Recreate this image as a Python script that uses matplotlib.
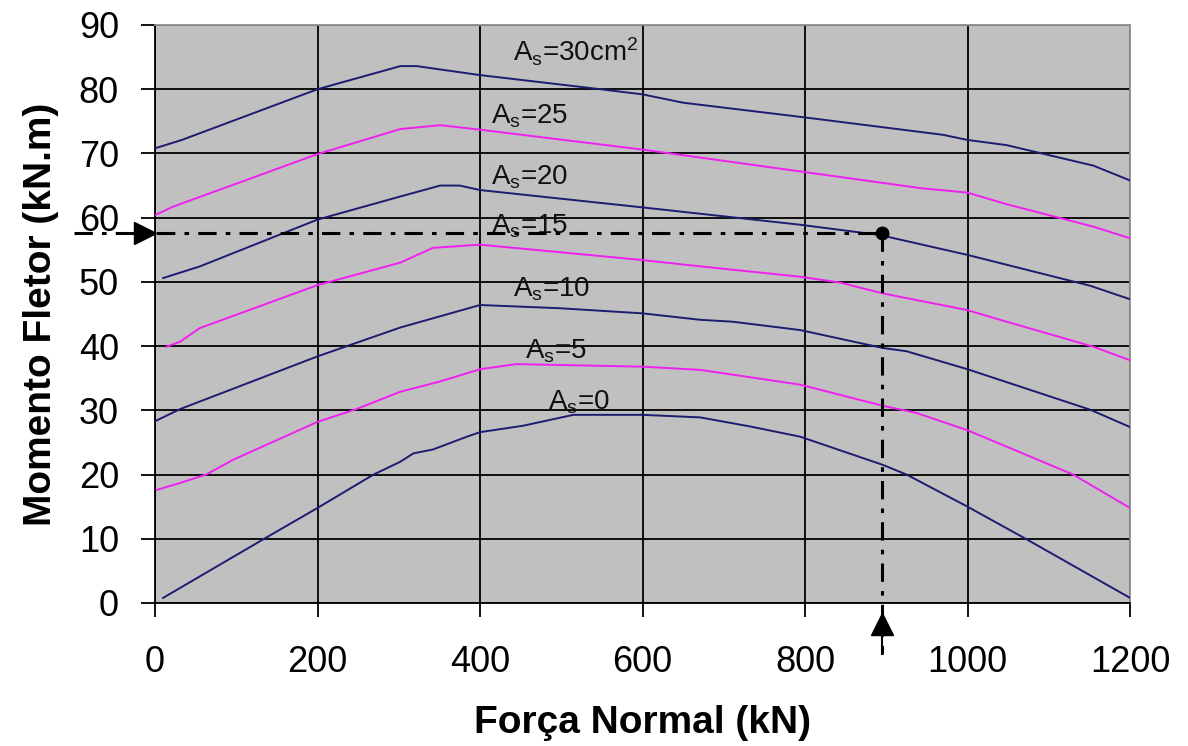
import matplotlib
matplotlib.use("Agg")
import matplotlib.pyplot as plt

plt.rcParams['font.family'] = ['Liberation Sans', 'DejaVu Sans']
plt.rcParams['mathtext.default'] = 'regular'

# ---- data ----
x_as0 = [10, 133, 200, 269, 302, 318, 342, 384, 400, 453, 515, 600, 671, 732, 794, 896, 925, 1000, 1073, 1200]
y_as0 = [0.8, 9.9, 14.8, 20.0, 22.0, 23.3, 23.9, 25.9, 26.6, 27.6, 29.3, 29.3, 28.9, 27.5, 25.9, 21.5, 20.0, 15.0, 9.9, 0.8]

x_as5 = [2, 31, 63, 96, 200, 248, 302, 351, 400, 445, 600, 671, 794, 896, 937, 1000, 1130, 1200]
y_as5 = [17.6, 18.7, 20.0, 22.3, 28.2, 30.2, 32.9, 34.5, 36.4, 37.2, 36.8, 36.3, 34.0, 30.7, 29.6, 26.9, 20.0, 14.8]

x_as10 = [0, 31, 200, 302, 400, 498, 600, 671, 711, 794, 896, 925, 1000, 1151, 1200]
y_as10 = [28.3, 30.2, 38.4, 42.9, 46.4, 45.9, 45.1, 44.1, 43.8, 42.5, 39.7, 39.2, 36.4, 30.1, 27.4]

x_as15 = [14, 31, 55, 200, 302, 342, 400, 600, 650, 794, 843, 896, 1000, 1040, 1155, 1200]
y_as15 = [39.9, 40.7, 42.8, 49.5, 53.0, 55.3, 55.8, 53.4, 52.7, 50.8, 49.9, 48.2, 45.6, 44.1, 39.9, 37.8]

x_as20 = [10, 55, 200, 302, 351, 375, 400, 600, 794, 892, 1000, 1151, 1200]
y_as20 = [50.6, 52.4, 59.7, 63.3, 65.0, 65.0, 64.3, 61.6, 58.9, 57.3, 54.2, 49.4, 47.3]

x_as25 = [0, 22, 200, 302, 351, 400, 600, 794, 942, 1000, 1048, 1155, 1200]
y_as25 = [60.4, 61.7, 69.9, 73.8, 74.4, 73.7, 70.6, 67.2, 64.6, 63.9, 62.1, 58.6, 56.8]

x_as30 = [0, 33, 200, 302, 322, 400, 535, 600, 650, 794, 970, 1000, 1048, 1155, 1200]
y_as30 = [70.8, 72.1, 80.0, 83.6, 83.6, 82.2, 80.2, 79.2, 77.9, 75.7, 72.9, 72.1, 71.3, 68.1, 65.8]

curve_labels = ["A$_s$=0", "A$_s$=5", "A$_s$=10", "A$_s$=15", "A$_s$=20", "A$_s$=25", "A$_s$=30cm$^2$"]
label_x = [484, 455, 441, 414, 414, 414, 441]
label_y = [30.2, 38.0, 47.7, 57.6, 65.1, 74.7, 84.3]

x_ticks = [0, 200, 400, 600, 800, 1000, 1200]
y_ticks = [0, 10, 20, 30, 40, 50, 60, 70, 80, 90]

design_N = 895
design_M = 57.6

NAVY = '#1c1c70'
MAG = '#f020f0'

fig = plt.figure(figsize=(11.88, 7.46), dpi=100)
ax = fig.add_axes([155/1188, 1 - 603/746, (1130 - 155)/1188, (603 - 25)/746])
ax.set_facecolor('#c0c0c0')

series = [(x_as0, y_as0, NAVY), (x_as5, y_as5, MAG), (x_as10, y_as10, NAVY),
          (x_as15, y_as15, MAG), (x_as20, y_as20, NAVY), (x_as25, y_as25, MAG),
          (x_as30, y_as30, NAVY)]
for xs, ys, c in series:
    ax.plot(xs, ys, color=c, lw=1.4, zorder=3)

for lab, lx, ly in zip(curve_labels, label_x, label_y):
    ax.text(lx, ly, lab, fontsize=20, ha='left', va='baseline', color='#111111', zorder=4)

ax.set_xlim(0, 1200)
ax.set_ylim(0, 90)
ax.set_xticks(x_ticks)
ax.set_yticks(y_ticks)
ax.grid(True, color='black', lw=1.3, zorder=1)
ax.set_axisbelow(True)
ax.tick_params(axis='both', direction='out', length=10, width=1.3, labelsize=26, color='black')
ax.tick_params(axis='y', pad=16)
ax.tick_params(axis='x', pad=20)
for s in ['top', 'right']:
    ax.spines[s].set_color('#909090')
    ax.spines[s].set_linewidth(1.3)
for s in ['left', 'bottom']:
    ax.spines[s].set_color('black')
    ax.spines[s].set_linewidth(1.3)

ax.set_xlabel('Força Normal (kN)', fontsize=28, fontweight='bold', labelpad=18)
ax.set_ylabel('Momento Fletor (kN.m)', fontsize=28, fontweight='bold', labelpad=14)

# design point annotation
dash = (0, (6, 3, 1.5, 3))
ax.plot([-100, design_N], [design_M, design_M], color='black', lw=2.2, linestyle=dash, clip_on=False, zorder=5)
ax.plot([design_N, design_N], [design_M, -8], color='black', lw=2.2, linestyle=dash, clip_on=False, zorder=5)
ax.plot([design_N], [design_M], marker='o', color='black', markersize=9, zorder=6)
# left arrow head pointing right
ax.plot([-12], [design_M], marker='>', color='black', markersize=16, clip_on=False, zorder=6)
# bottom arrow pointing up
ax.plot([design_N], [-3.3], marker='^', color='black', markersize=16, clip_on=False, zorder=6)
ax.plot([design_N, design_N], [-4, -8], color='black', lw=1.5, clip_on=False, zorder=5)

fig.savefig('out.png', dpi=100)
